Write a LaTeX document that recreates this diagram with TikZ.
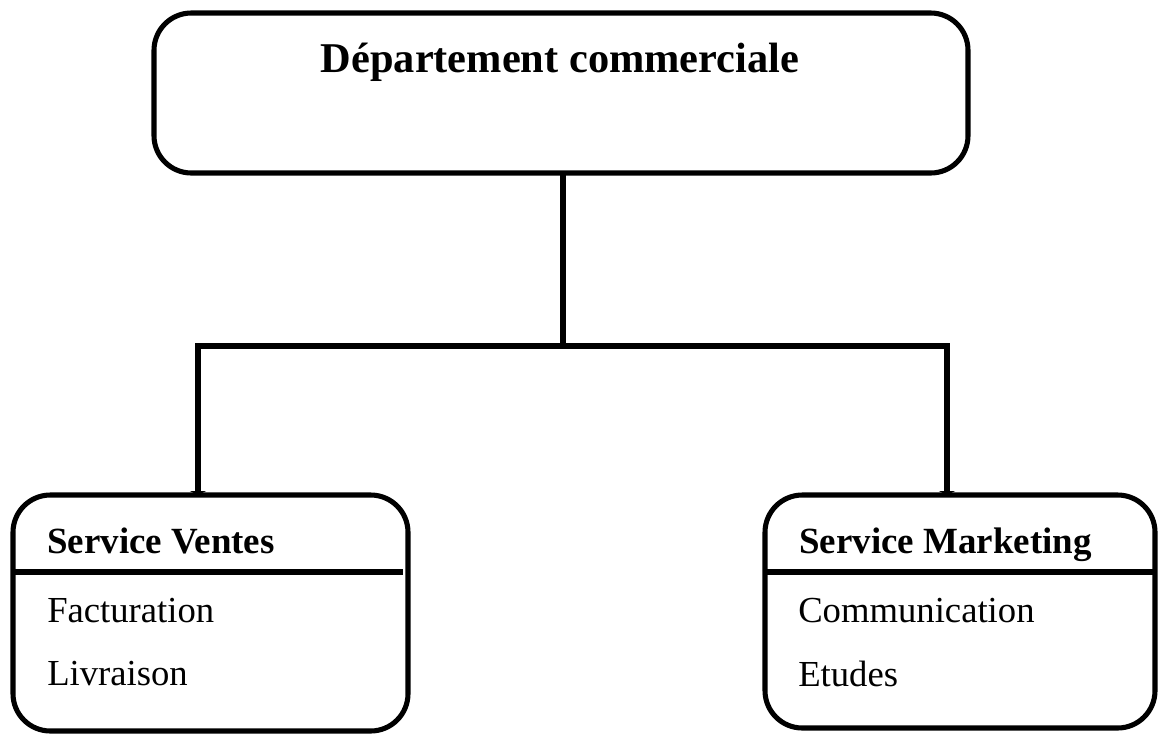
\documentclass[tikz,border=0pt]{standalone}
\usepackage{fontspec}
\setmainfont{Liberation Serif}
\usetikzlibrary{arrows.meta}
\tikzset{
  box/.style={draw, line width=3.8pt, rounded corners=28pt, outer sep=0pt, inner sep=0pt},
  conn/.style={line width=3.8pt},
  tip/.style={-{Triangle[length=3pt,width=12pt]}},
  divider/.style={line width=3.8pt},
  titletext/.style={font=\fontsize{31.8pt}{36pt}\selectfont\bfseries, anchor=base, inner sep=0pt},
  headtext/.style={font=\fontsize{27.7pt}{32pt}\selectfont\bfseries, anchor=base west, inner sep=0pt},
  itemtext/.style={font=\fontsize{27.5pt}{32pt}\selectfont, anchor=base west, inner sep=0pt}
}
\begin{document}
\begin{tikzpicture}[x=0.75pt,y=-0.75pt]
\useasboundingbox (0,0) rectangle (1162,736);
% boxes
\node[box, minimum width=610.5pt, minimum height=120pt] (top) at (561,93) {};
\node[box, minimum width=296.25pt, minimum height=177pt] (ventes) at (210.5,613) {};
\node[box, minimum width=292.5pt, minimum height=174.75pt] (marketing) at (960,611.5) {};
% texts
\node[titletext] (ttl) at (560,72) {Département commerciale};
\node[headtext] (hv) at (47,553) {Service Ventes};
\node[itemtext] (fac) at (47,622) {Facturation};
\node[itemtext] (liv) at (47,685) {Livraison};
\node[headtext] (hm) at (799,553) {Service Marketing};
\node[itemtext] (com) at (798,622) {Communication};
\node[itemtext] (etu) at (798,686) {Etudes};
% dividers
\coordinate (vd) at (403,572);
\draw[divider] (ventes.west |- vd) -- (vd);
\coordinate (md) at (0,572);
\draw[divider] (marketing.west |- md) -- (marketing.east |- md);
% connectors
\coordinate (j) at (563,346);
\coordinate (la) at (198,346);
\coordinate (ra) at (947,346);
\draw[conn] (top.south -| j) -- (j);
\draw[conn, tip] (j) -| (la |- ventes.north);
\draw[conn, tip] (j) -| (ra |- marketing.north);
\end{tikzpicture}
\end{document}
